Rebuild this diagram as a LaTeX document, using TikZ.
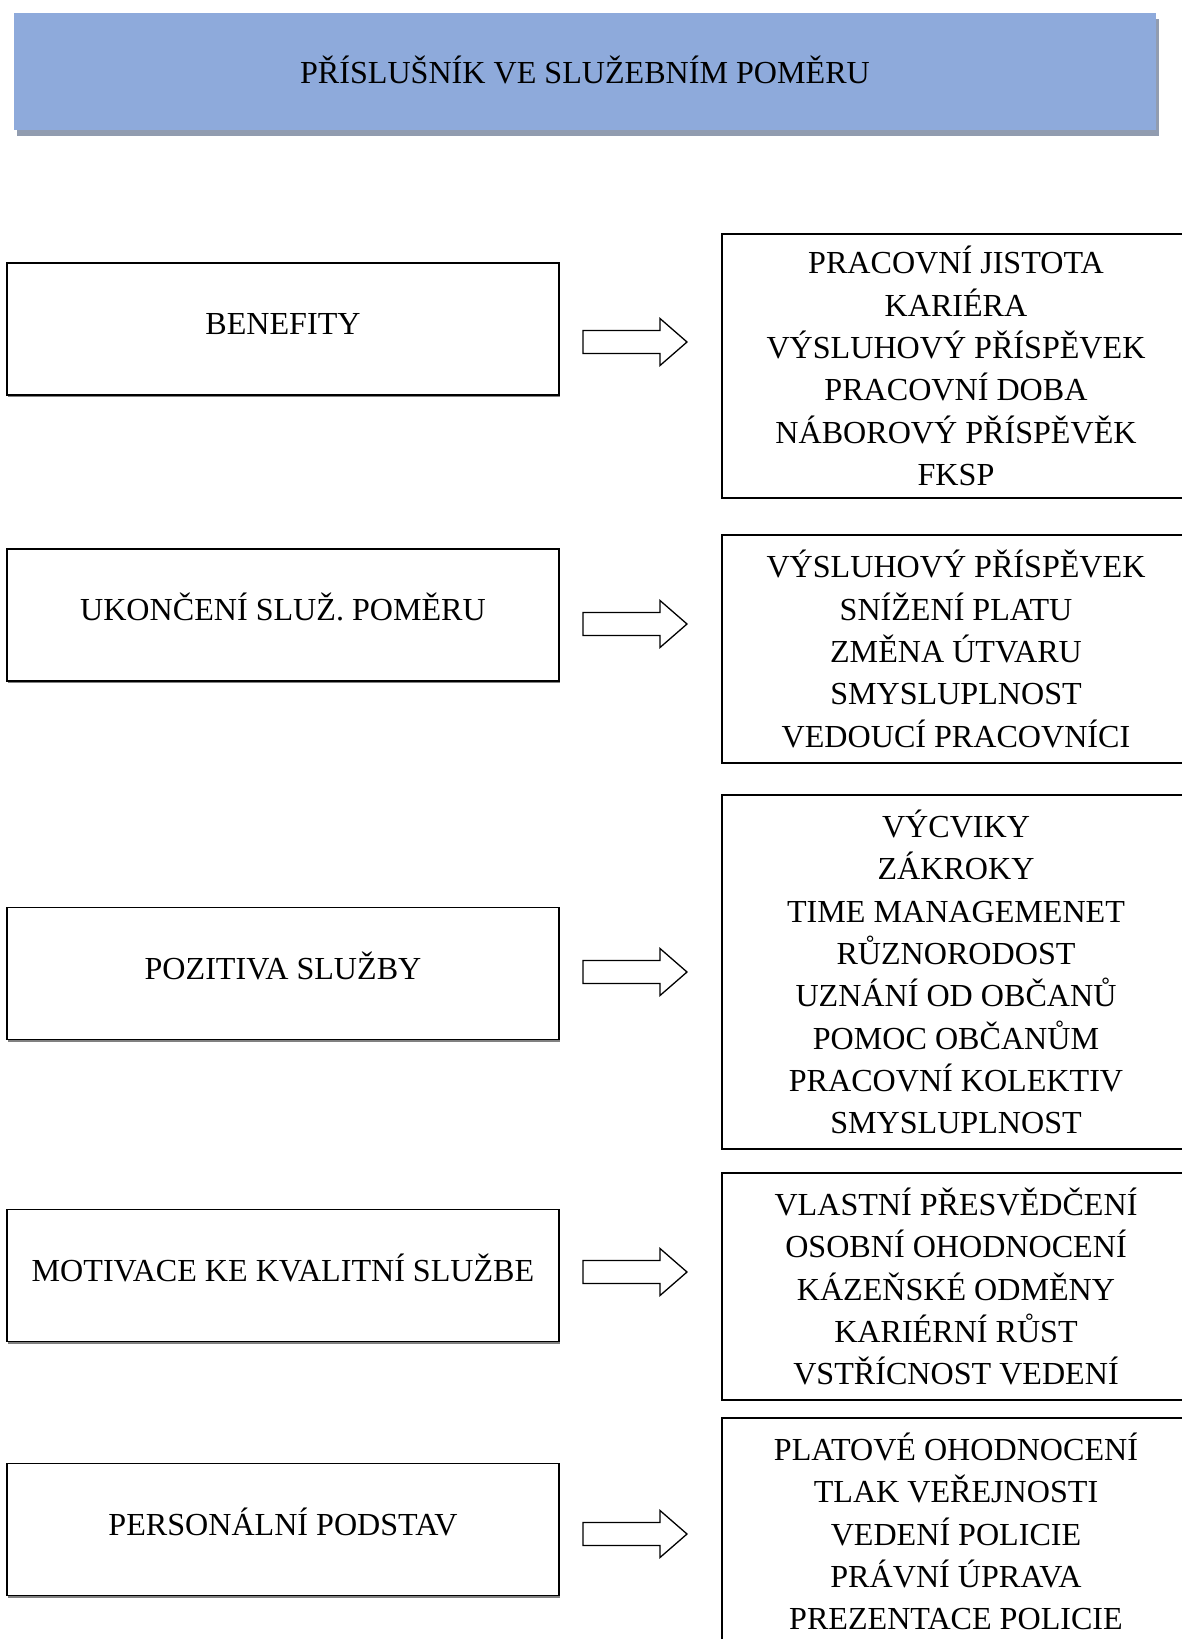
\documentclass[tikz,border=0pt]{standalone}
\usepackage{fontspec}
\setmainfont{Liberation Serif}
\usetikzlibrary{shadows}
\definecolor{headerblue}{RGB}{142,170,219}
\definecolor{headshadow}{RGB}{145,156,176}
\begin{document}
\begin{tikzpicture}[x=1pt,y=-1pt,
  every node/.style={font=\fontsize{32.1}{42.3}\selectfont, inner sep=0pt, outer sep=0pt},
  header/.style={fill=headerblue, minimum width=1142pt, minimum height=117pt,
    drop shadow={shadow xshift=3pt, shadow yshift=-6pt, fill=headshadow, opacity=1}},
  lbox/.style={draw, line width=1.6pt, fill=white, minimum width=552pt, minimum height=132pt,
    text height=21pt, text depth=10pt,
    drop shadow={shadow xshift=1.2pt, shadow yshift=-2.2pt, fill=gray, opacity=1}},
  rbox/.style={draw, line width=1.6pt, fill=white, minimum width=468pt, align=center},
  fatarr/.style={draw, line width=1.3pt, fill=white, line join=miter}]
\useasboundingbox (0,0) rectangle (1182,1639);
\clip (0,0) rectangle (1182,1639);
\fill[white] (0,0) rectangle (1182,1639);

\node[header, text height=24pt, text depth=0pt] (title) at (585,71.5) {PŘÍSLUŠNÍK VE SLUŽEBNÍM POMĚRU};

\node[lbox] (l1) at (283,329) {BENEFITY};
\node[lbox] (l2) at (283,615) {UKONČENÍ SLUŽ. POMĚRU};
\node[lbox] (l3) at (283,973.5) {POZITIVA SLUŽBY};
\node[lbox] (l4) at (283,1275.5) {MOTIVACE KE KVALITNÍ SLUŽBE};
\node[lbox] (l5) at (283,1529.5) {PERSONÁLNÍ PODSTAV};

\node[rbox, minimum height=264pt] (r1) at (956,366) {PRACOVNÍ JISTOTA\\KARIÉRA\\VÝSLUHOVÝ PŘÍSPĚVEK\\PRACOVNÍ DOBA\\NÁBOROVÝ PŘÍSPĚVĚK\\FKSP};
\node[rbox, minimum height=228pt] (r2) at (956,649) {VÝSLUHOVÝ PŘÍSPĚVEK\\SNÍŽENÍ PLATU\\ZMĚNA ÚTVARU\\SMYSLUPLNOST\\VEDOUCÍ PRACOVNÍCI};
\node[rbox, minimum height=354pt] (r3) at (956,972) {VÝCVIKY\\ZÁKROKY\\TIME MANAGEMENET\\RŮZNORODOST\\UZNÁNÍ OD OBČANŮ\\POMOC OBČANŮM\\PRACOVNÍ KOLEKTIV\\SMYSLUPLNOST};
\node[rbox, minimum height=227pt] (r4) at (956,1286.5) {VLASTNÍ PŘESVĚDČENÍ\\OSOBNÍ OHODNOCENÍ\\KÁZEŇSKÉ ODMĚNY\\KARIÉRNÍ RŮST\\VSTŘÍCNOST VEDENÍ};
\node[rbox, minimum height=227pt] (r5) at (956,1531.5) {PLATOVÉ OHODNOCENÍ\\TLAK VEŘEJNOSTI\\VEDENÍ POLICIE\\PRÁVNÍ ÚPRAVA\\PREZENTACE POLICIE};

\foreach \c in {342,624,972,1272,1534}
  \draw[fatarr, shift={(0,\c)}] (583,-11.5) -- (660,-11.5) -- (660,-23.5) -- (687,0) -- (660,23.5) -- (660,11.5) -- (583,11.5) -- cycle;
\end{tikzpicture}
\end{document}
